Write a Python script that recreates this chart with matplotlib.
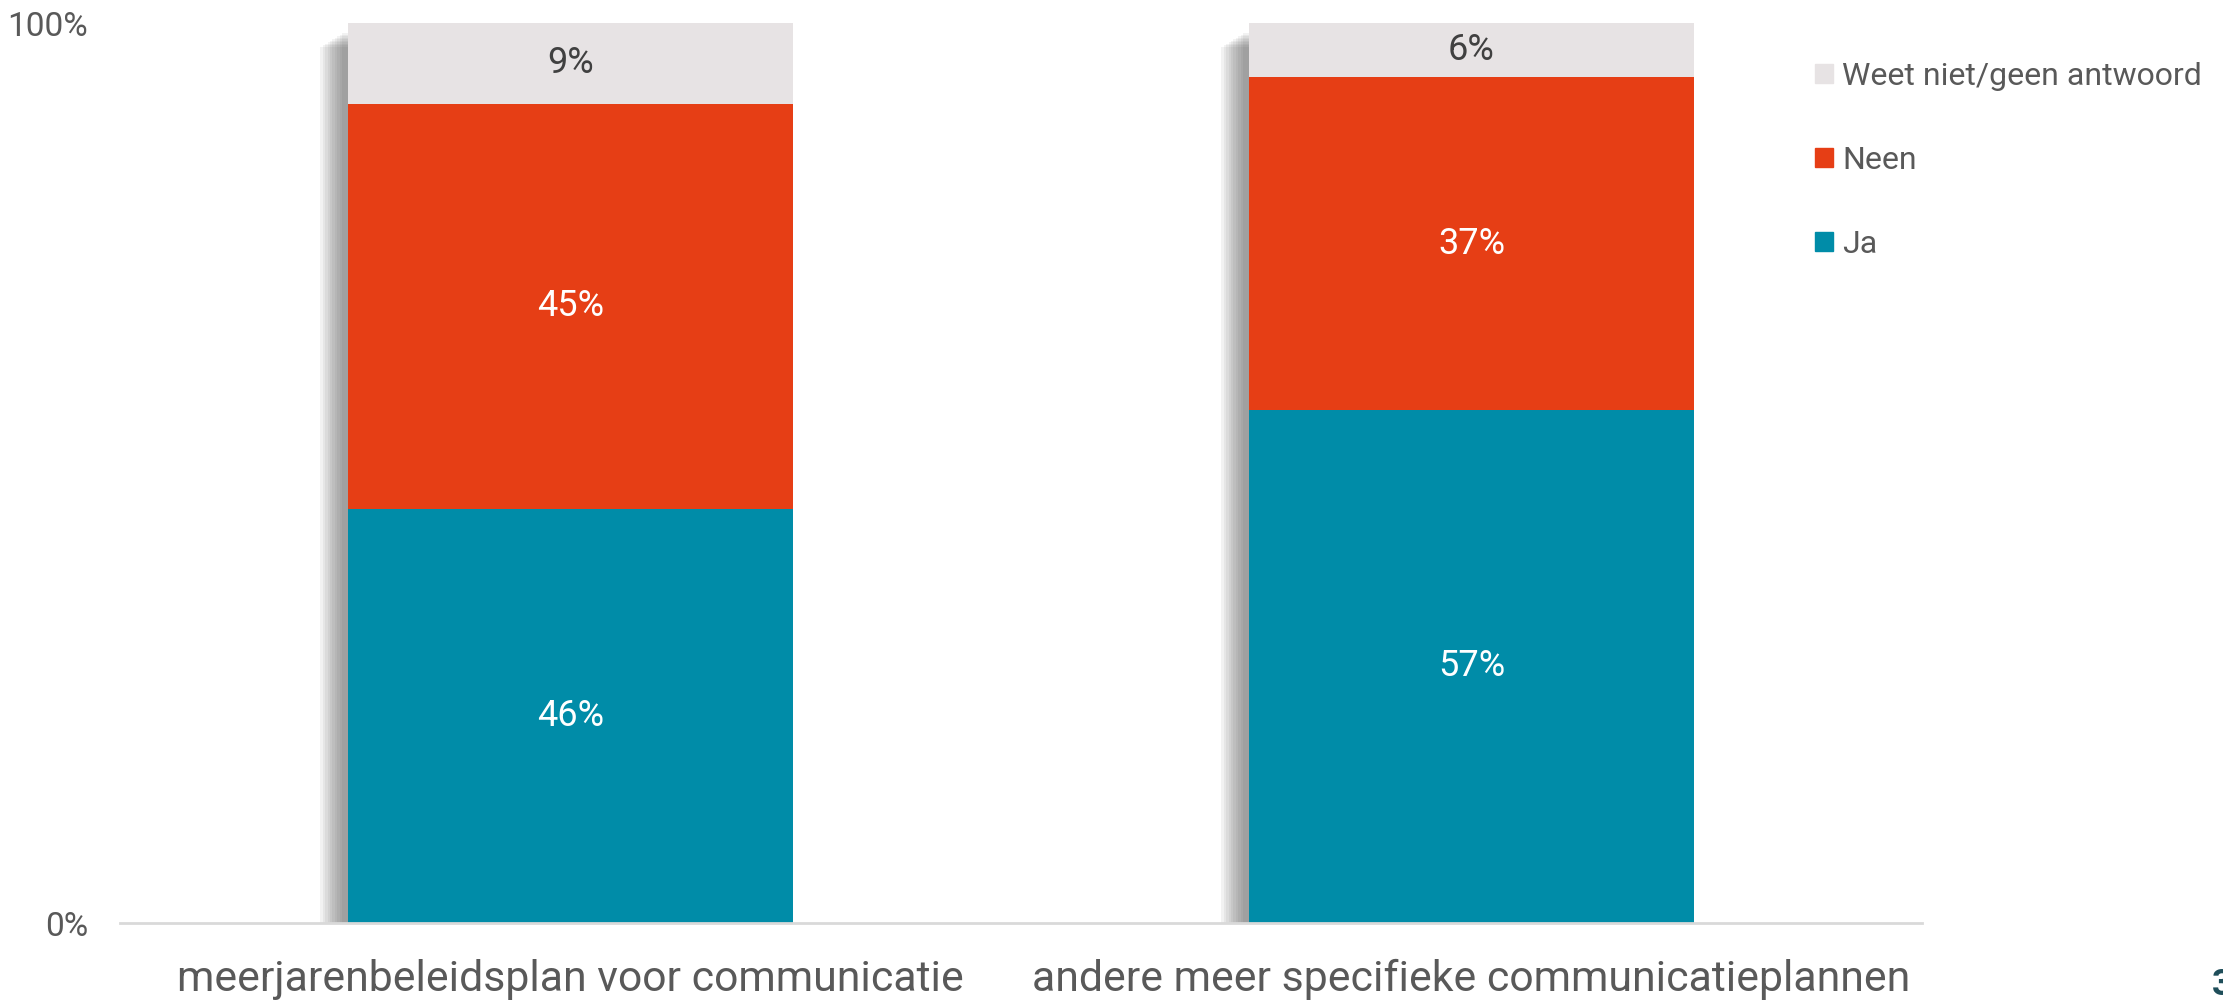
import matplotlib
matplotlib.use("Agg")
import matplotlib.pyplot as plt
from matplotlib.patches import Patch
import numpy as np

plt.rcParams['font.family'] = ['Roboto', 'DejaVu Sans']

# data
categorieen = ["meerjarenbeleidsplan voor communicatie",
               "andere meer specifieke communicatieplannen"]
ja = [46, 57]
neen = [45, 37]
weet = [9, 6]
reeksen = ["Ja", "Neen", "Weet niet/geen antwoord"]
kleuren = ["#008CA8", "#E63E15", "#E7E3E4"]
tekstkleuren = ["white", "white", "#404040"]

W, H = 2223, 1001
fig = plt.figure(figsize=(W / 100, H / 100), dpi=100)
ax = fig.add_axes([120 / W, (H - 923) / H, 1802 / W, 900 / H])

x = np.arange(len(categorieen))
breedte = 0.494
px_x = 1 / 899.5   # one pixel in data units
px_y = 1 / 900

# soft shadow left of each bar
for xi in x:
    linker = xi - breedte / 2
    for k in range(10):
        off = 6 + 2.4 * k
        ax.bar(linker - off * px_x, 1 - (10 + 1.5 * k) * px_y, width=breedte,
               align='edge', color='#555555', alpha=0.075, linewidth=0, zorder=1)

waarden = [ja, neen, weet]
onder = np.zeros(len(x))
for naam, vals, kleur, tk in zip(reeksen, waarden, kleuren, tekstkleuren):
    v = np.array(vals) / 100
    ax.bar(x, v, bottom=onder, width=breedte, color=kleur, linewidth=0,
           zorder=3, label=naam)
    for xi, b, h, raw in zip(x, onder, v, vals):
        ax.text(xi, b + h / 2, f"{raw}%", ha='center', va='center',
                color=tk, fontsize=26, zorder=4)
    onder += v

ax.set_xlim(-0.5, 1.5)
ax.set_ylim(0, 1)
ax.set_yticks([0, 1])
ax.set_yticklabels(["0%", "100%"])
ax.set_xticks(x)
ax.set_xticklabels(categorieen, fontsize=30.8)
ax.tick_params(axis='y', length=0, pad=23, labelsize=24, labelcolor='#595959')
ax.tick_params(axis='x', length=0, pad=26, labelcolor='#595959')
for s in ['top', 'right', 'left']:
    ax.spines[s].set_visible(False)
ax.spines['bottom'].set_color('#D9D9D9')
ax.spines['bottom'].set_linewidth(2)
ax.spines['bottom'].set_zorder(5)

handles = [Patch(color=k, label=n) for n, k in zip(reeksen, kleuren)][::-1]
leg = fig.legend(handles=handles, loc='upper left',
                 bbox_to_anchor=(1815 / W, 1 - 62 / H), frameon=False,
                 fontsize=23, handlelength=0.55, handleheight=0.55,
                 handletextpad=0.3, labelspacing=1.72, borderpad=0,
                 borderaxespad=0)
for t in leg.get_texts():
    t.set_color('#595959')

# page number, partly cut off
fig.text(2212 / W, 1 - 985 / H, "3", color='#1F4E5A', fontsize=26,
         ha='left', va='center', fontweight='bold')

fig.savefig("out.png", dpi=100)
